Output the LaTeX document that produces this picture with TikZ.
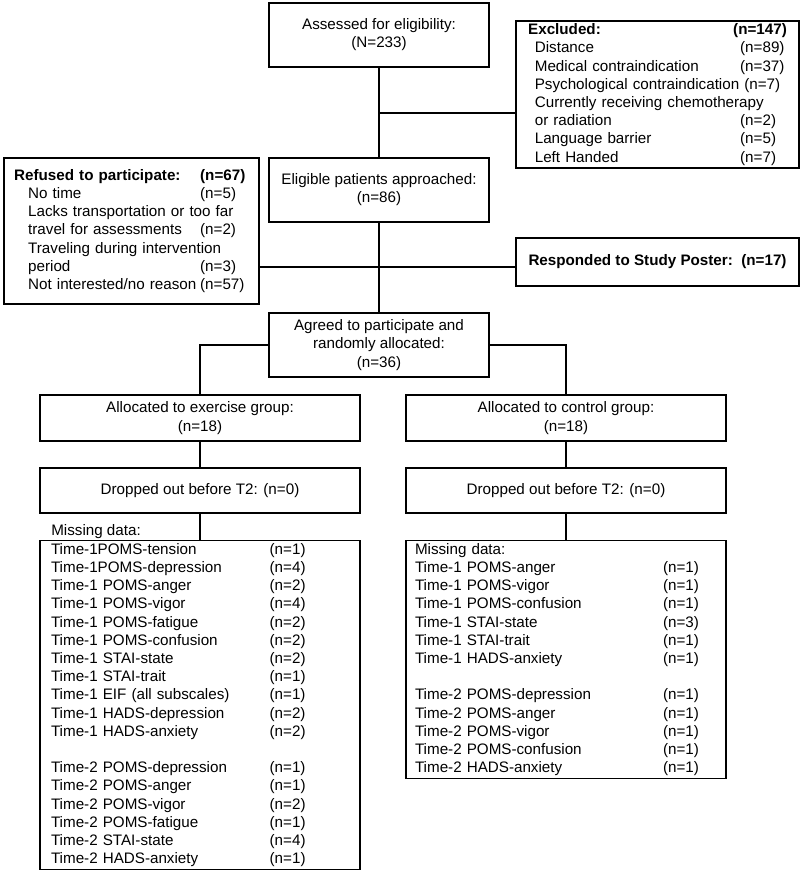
\documentclass[tikz,border=0pt]{standalone}
\usepackage{fontspec}
\setmainfont{Liberation Sans}
\usepackage{tikz}
\usetikzlibrary{positioning, calc}
\newcommand{\cntrow}[3]{\makebox[#1][l]{#2}#3}

\begin{document}
\begin{tikzpicture}[
    x=0.75pt, y=-0.75pt,
    box/.style={draw, line width=1.2pt, minimum width=165pt, minimum height=48pt, inner sep=2pt, align=center, font=\fontsize{11.4}{13.6}\selectfont},
    listbox/.style={draw, line width=1.2pt, align=left, inner ysep=2pt, font=\fontsize{11.4}{13.65}\selectfont},
    link/.style={line width=1.3pt}
]
    \useasboundingbox (0,0) rectangle (800,873);

    \node[box] (assess) at (379,35) {Assessed for eligibility:\\(N=233)};
    \node[listbox, text width=194pt, inner xsep=9pt, minimum height=108.75pt] (excl) at (657.5,94.5) {\textbf{Excluded:}\hfill\textbf{(n=147)}\\
        \hspace*{5pt}\cntrow{154pt}{Distance}{(n=89)}\\
        \hspace*{5pt}\cntrow{154pt}{Medical contraindication}{(n=37)}\\
        \hspace*{5pt}Psychological contraindication (n=7)\\
        \hspace*{5pt}Currently receiving chemotherapy\\
        \hspace*{5pt}\cntrow{154pt}{or radiation}{(n=2)}\\
        \hspace*{5pt}\cntrow{154pt}{Language barrier}{(n=5)}\\
        \hspace*{5pt}\cntrow{154pt}{Left Handed}{(n=7)}};
    \node[box] (elig) at (379,190) {Eligible patients approached:\\(n=86)};
    \node[listbox, text width=176pt, inner xsep=7.5pt, minimum height=109.5pt] (refused) at (131.5,231) {\cntrow{139.5pt}{\textbf{Refused to participate:}}{\textbf{(n=67)}}\\
        \hspace*{10.5pt}\cntrow{129pt}{No time}{(n=5)}\\
        \hspace*{10.5pt}Lacks transportation or too far\\
        \hspace*{10.5pt}\cntrow{129pt}{travel for assessments}{(n=2)}\\
        \hspace*{10.5pt}Traveling during intervention\\
        \hspace*{10.5pt}\cntrow{129pt}{period}{(n=3)}\\
        \hspace*{10.5pt}\cntrow{129pt}{Not interested/no reason}{(n=57)}};
    \node[box, minimum width=212.25pt, minimum height=36pt] (responded) at (657.5,262) {\textbf{Responded to Study Poster:~~(n=17)}};
    \node[box] (agreed) at (379,345) {Agreed to participate and\\randomly allocated:\\(n=36)};
    \node[box, minimum width=240pt, minimum height=34.5pt] (exer) at (200,418) {Allocated to exercise group:\\(n=18)};
    \node[box, minimum width=240pt, minimum height=34.5pt] (ctrl) at (566,418) {Allocated to control group:\\(n=18)};
    \node[box, minimum width=240pt, minimum height=34pt] (drop1) at (200,490.5) {Dropped out before T2: (n=0)};
    \node[box, minimum width=240pt, minimum height=34pt] (drop2) at (566,490.5) {Dropped out before T2: (n=0)};

    \node[anchor=west, inner sep=0pt, font=\fontsize{11.4}{13.6}\selectfont] (mlabel) at (51,532) {Missing data:};
    \node[listbox, text width=223.5pt, inner xsep=8.25pt, minimum height=246pt] (miss1) at (200,705) {\cntrow{164pt}{Time-1POMS-tension}{(n=1)}\\
        \cntrow{164pt}{Time-1POMS-depression}{(n=4)}\\
        \cntrow{164pt}{Time-1 POMS-anger}{(n=2)}\\
        \cntrow{164pt}{Time-1 POMS-vigor}{(n=4)}\\
        \cntrow{164pt}{Time-1 POMS-fatigue}{(n=2)}\\
        \cntrow{164pt}{Time-1 POMS-confusion}{(n=2)}\\
        \cntrow{164pt}{Time-1 STAI-state}{(n=2)}\\
        \cntrow{164pt}{Time-1 STAI-trait}{(n=1)}\\
        \cntrow{164pt}{Time-1 EIF (all subscales)}{(n=1)}\\
        \cntrow{164pt}{Time-1 HADS-depression}{(n=2)}\\
        \cntrow{164pt}{Time-1 HADS-anxiety}{(n=2)}\\
        \mbox{}\\
        \cntrow{164pt}{Time-2 POMS-depression}{(n=1)}\\
        \cntrow{164pt}{Time-2 POMS-anger}{(n=1)}\\
        \cntrow{164pt}{Time-2 POMS-vigor}{(n=2)}\\
        \cntrow{164pt}{Time-2 POMS-fatigue}{(n=1)}\\
        \cntrow{164pt}{Time-2 STAI-state}{(n=4)}\\
        \cntrow{164pt}{Time-2 HADS-anxiety}{(n=1)}};
    \node[listbox, text width=226.5pt, inner xsep=6.75pt, minimum height=177.75pt] (miss2) at (566,659.5) {Missing data:\\
        \cntrow{186pt}{Time-1 POMS-anger}{(n=1)}\\
        \cntrow{186pt}{Time-1 POMS-vigor}{(n=1)}\\
        \cntrow{186pt}{Time-1 POMS-confusion}{(n=1)}\\
        \cntrow{186pt}{Time-1 STAI-state}{(n=3)}\\
        \cntrow{186pt}{Time-1 STAI-trait}{(n=1)}\\
        \cntrow{186pt}{Time-1 HADS-anxiety}{(n=1)}\\
        \mbox{}\\
        \cntrow{186pt}{Time-2 POMS-depression}{(n=1)}\\
        \cntrow{186pt}{Time-2 POMS-anger}{(n=1)}\\
        \cntrow{186pt}{Time-2 POMS-vigor}{(n=1)}\\
        \cntrow{186pt}{Time-2 POMS-confusion}{(n=1)}\\
        \cntrow{186pt}{Time-2 HADS-anxiety}{(n=1)}};

    \coordinate (b1) at (379,113);
    \coordinate (b2) at (379,267);
    \draw[link] (assess) -- (elig);
    \draw[link] (b1) -- (b1 -| excl.west);
    \draw[link] (elig) -- (agreed);
    \draw[link] (b2 -| refused.east) -- (b2 -| responded.west);
    \draw[link] (agreed.west) -| (exer.north);
    \draw[link] (agreed.east) -| (ctrl.north);
    \draw[link] (exer) -- (drop1);
    \draw[link] (ctrl) -- (drop2);
    \draw[link] (drop1) -- (miss1);
    \draw[link] (drop2) -- (miss2);
\end{tikzpicture}
\end{document}
